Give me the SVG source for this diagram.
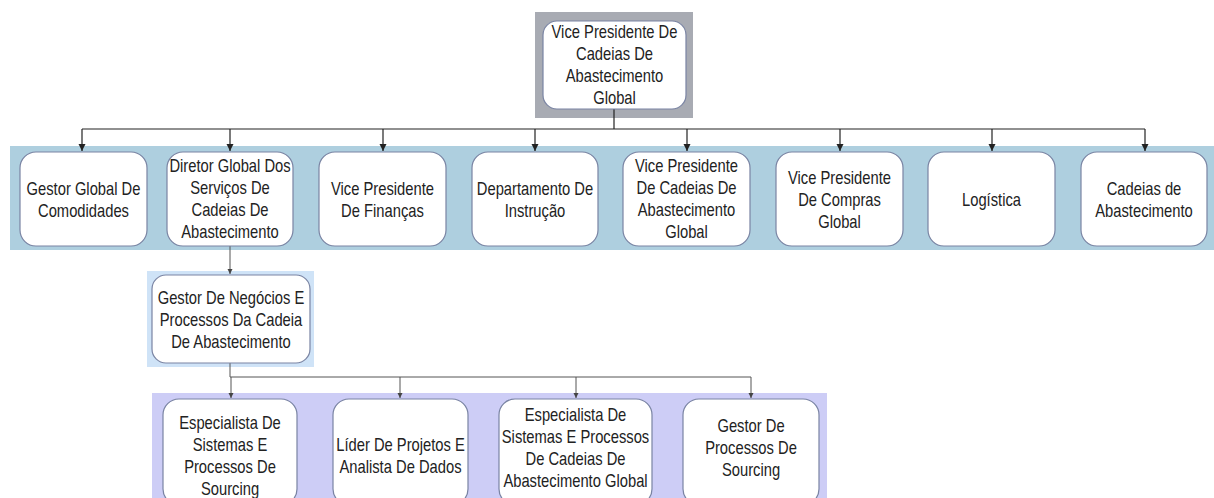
<svg xmlns="http://www.w3.org/2000/svg" width="1214" height="498" viewBox="0 0 1214 498">
<defs>
<marker id="ah" markerWidth="8" markerHeight="8" refX="7" refY="4" orient="auto" markerUnits="userSpaceOnUse">
<path d="M0,0.5 L7,4 L0,7.5 Z" fill="#222"/>
</marker>
<marker id="ahs" markerWidth="6" markerHeight="6" refX="5" refY="3" orient="auto" markerUnits="userSpaceOnUse">
<path d="M0,0.5 L5,3 L0,5.5 Z" fill="#444"/>
</marker>
</defs>
<style>
.box{fill:#ffffff;stroke:#7a84a3;stroke-width:1.2}
.t{font-family:"Liberation Sans",Arial,sans-serif;font-size:18px;fill:#222;text-anchor:middle}
.c{fill:none;stroke:#222;stroke-width:1.2}
.c2{fill:none;stroke:#555;stroke-width:1}
</style>
<rect x="0" y="0" width="1214" height="498" fill="#ffffff"/>
<!-- bands -->
<rect x="535" y="12" width="158" height="106" fill="#a8abb3"/>
<rect x="10" y="146" width="1204" height="104" fill="#aecfdf"/>
<rect x="147" y="271" width="167" height="96" fill="#cfe3f7"/>
<rect x="152" y="393" width="675" height="105" fill="#cdcdf6"/>

<g id="connectors">
<path class="c" d="M614,109 V129"/>
<path class="c" d="M82,129 H1145"/>
<path class="c" d="M82,129 V151" marker-end="url(#ah)"/>
<path class="c" d="M230,129 V151" marker-end="url(#ah)"/>
<path class="c" d="M383,129 V151" marker-end="url(#ah)"/>
<path class="c" d="M535,129 V151" marker-end="url(#ah)"/>
<path class="c" d="M687,129 V151" marker-end="url(#ah)"/>
<path class="c" d="M840,129 V151" marker-end="url(#ah)"/>
<path class="c" d="M992,129 V151" marker-end="url(#ah)"/>
<path class="c" d="M1145,129 V151" marker-end="url(#ah)"/>
<path class="c2" d="M230,246 V274" marker-end="url(#ahs)"/>
<path class="c2" d="M230,363 V377 H751"/>
<path class="c2" d="M231,377 V398" marker-end="url(#ahs)"/>
<path class="c2" d="M400,377 V398" marker-end="url(#ahs)"/>
<path class="c2" d="M576,377 V398" marker-end="url(#ahs)"/>
<path class="c2" d="M751,377 V398" marker-end="url(#ahs)"/>
</g>

<g id="n0">
<rect class="box" x="543" y="21" width="143" height="88" rx="14"/>
<text class="t" transform="matrix(0.82 0 0 1 614.5 0)"><tspan x="0" y="38">Vice Presidente De</tspan><tspan x="0" y="60">Cadeias De</tspan><tspan x="0" y="82">Abastecimento</tspan><tspan x="0" y="104">Global</tspan></text>
</g>

<g id="n1">
<rect class="box" x="20" y="152" width="127" height="94" rx="16"/>
<text class="t" transform="matrix(0.82 0 0 1 83.5 0)"><tspan x="0" y="195">Gestor Global De</tspan><tspan x="0" y="217">Comodidades</tspan></text>
</g>
<g id="n2">
<rect class="box" x="167" y="152" width="126" height="94" rx="16"/>
<text class="t" transform="matrix(0.82 0 0 1 230 0)"><tspan x="0" y="172">Diretor Global Dos</tspan><tspan x="0" y="194">Serviços De</tspan><tspan x="0" y="216">Cadeias De</tspan><tspan x="0" y="238">Abastecimento</tspan></text>
</g>
<g id="n3">
<rect class="box" x="319" y="152" width="127" height="94" rx="16"/>
<text class="t" transform="matrix(0.82 0 0 1 382.5 0)"><tspan x="0" y="195">Vice Presidente</tspan><tspan x="0" y="217">De Finanças</tspan></text>
</g>
<g id="n4">
<rect class="box" x="472" y="152" width="126" height="94" rx="16"/>
<text class="t" transform="matrix(0.82 0 0 1 535 0)"><tspan x="0" y="195">Departamento De</tspan><tspan x="0" y="217">Instrução</tspan></text>
</g>
<g id="n5">
<rect class="box" x="623" y="152" width="127" height="94" rx="16"/>
<text class="t" transform="matrix(0.82 0 0 1 686.5 0)"><tspan x="0" y="172">Vice Presidente</tspan><tspan x="0" y="194">De Cadeias De</tspan><tspan x="0" y="216">Abastecimento</tspan><tspan x="0" y="238">Global</tspan></text>
</g>
<g id="n6">
<rect class="box" x="776" y="152" width="127" height="94" rx="16"/>
<text class="t" transform="matrix(0.82 0 0 1 839.5 0)"><tspan x="0" y="184">Vice Presidente</tspan><tspan x="0" y="206">De Compras</tspan><tspan x="0" y="228">Global</tspan></text>
</g>
<g id="n7">
<rect class="box" x="928" y="152" width="127" height="94" rx="16"/>
<text class="t" transform="matrix(0.82 0 0 1 991.5 0)"><tspan x="0" y="206">Logística</tspan></text>
</g>
<g id="n8">
<rect class="box" x="1081" y="152" width="126" height="94" rx="16"/>
<text class="t" transform="matrix(0.82 0 0 1 1144 0)"><tspan x="0" y="195">Cadeias de</tspan><tspan x="0" y="217">Abastecimento</tspan></text>
</g>

<g id="n9">
<rect class="box" x="152" y="275" width="158" height="88" rx="14"/>
<text class="t" transform="matrix(0.82 0 0 1 231 0)"><tspan x="0" y="304">Gestor De Negócios E</tspan><tspan x="0" y="326">Processos Da Cadeia</tspan><tspan x="0" y="348">De Abastecimento</tspan></text>
</g>

<g id="n10">
<rect class="box" x="163" y="399" width="134" height="106" rx="16"/>
<text class="t" transform="matrix(0.82 0 0 1 230 0)"><tspan x="0" y="429">Especialista De</tspan><tspan x="0" y="451">Sistemas E</tspan><tspan x="0" y="473">Processos De</tspan><tspan x="0" y="495">Sourcing</tspan></text>
</g>
<g id="n11">
<rect class="box" x="333" y="399" width="135" height="106" rx="16"/>
<text class="t" transform="matrix(0.82 0 0 1 400.5 0)"><tspan x="0" y="451">Líder De Projetos E</tspan><tspan x="0" y="473">Analista De Dados</tspan></text>
</g>
<g id="n12">
<rect class="box" x="499" y="399" width="153" height="106" rx="16"/>
<text class="t" transform="matrix(0.82 0 0 1 575.5 0)"><tspan x="0" y="421">Especialista De</tspan><tspan x="0" y="443">Sistemas E Processos</tspan><tspan x="0" y="465">De Cadeias De</tspan><tspan x="0" y="487">Abastecimento Global</tspan></text>
</g>
<g id="n13">
<rect class="box" x="683" y="399" width="136" height="106" rx="16"/>
<text class="t" transform="matrix(0.82 0 0 1 751 0)"><tspan x="0" y="432">Gestor De</tspan><tspan x="0" y="454">Processos De</tspan><tspan x="0" y="476">Sourcing</tspan></text>
</g>
</svg>
